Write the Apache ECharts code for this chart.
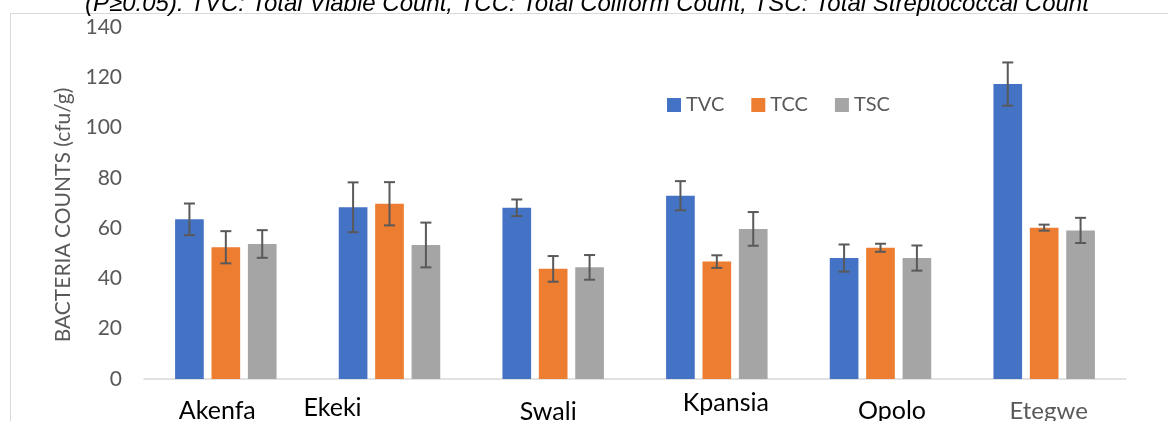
<!DOCTYPE html>
<html>
<head>
<meta charset="utf-8">
<script src="https://cdn.jsdelivr.net/npm/echarts@6/dist/echarts.min.js"></script>
<style>
  html, body { margin: 0; padding: 0; background: #fff; }
  #box { width: 1168px; height: 421px; }
</style>
</head>
<body>
<div id="box"></div>
<script>
  // sites and counts
  const categories = ['Akenfa', 'Ekeki', 'Swali', 'Kpansia', 'Opolo', 'Etegwe'];
  const tvc = [63.5, 68.3, 68.1, 72.9, 48.1, 117.3];
  const tcc = [52.4, 69.7, 43.8, 46.7, 52.2, 60.2];
  const tsc = [53.7, 53.3, 44.4, 59.7, 48.1, 59.1];
  const tvcErr = [6.3, 9.9, 3.3, 5.8, 5.4, 8.6];
  const tccErr = [6.4, 8.6, 5.1, 2.5, 1.6, 1.2];
  const tscErr = [5.5, 8.9, 4.9, 6.7, 5.0, 5.0];
  const yTicks = [0, 20, 40, 60, 80, 100, 120, 140];

  const font = 'Lato, "Open Sans", sans-serif';
  const barGapPct = 0.27;
  const catGapPct = 0.38;

  // hand-placed text boxes in the original, so labels are nudged one by one
  const labelPad = [
    [19, 17, 0, 0],
    [16, 114, 0, 0],
    [20, 10, 0, 0],
    [11, 0, 0, 18],
    [19, 0, 0, 23],
    [20, 0, 0, 9],
  ];

  const chart = echarts.init(document.getElementById('box'));

  function errorSeries(name, values, errs, k) {
    return {
      name: name + ' err',
      type: 'custom',
      z: 5,
      silent: true,
      data: values.map((v, i) => [i, v - errs[i], v + errs[i]]),
      renderItem: (params, api) => {
        const band = api.size([1, 0])[0];
        const barW = band * (1 - catGapPct) / (3 + 2 * barGapPct);
        const shift = (k - 1) * barW * (1 + barGapPct);
        const lo = api.coord([api.value(0), api.value(1)]);
        const hi = api.coord([api.value(0), api.value(2)]);
        const x = lo[0] + shift;
        const half = 5.5;
        const style = { stroke: '#595959', lineWidth: 2 };
        return {
          type: 'group',
          children: [
            { type: 'line', shape: { x1: x, y1: hi[1], x2: x, y2: lo[1] }, style },
            { type: 'line', shape: { x1: x - half, y1: hi[1], x2: x + half, y2: hi[1] }, style },
            { type: 'line', shape: { x1: x - half, y1: lo[1], x2: x + half, y2: lo[1] }, style },
          ],
        };
      },
    };
  }

  function barSeries(name, values, color) {
    return {
      name,
      type: 'bar',
      data: values,
      barGap: (barGapPct * 100) + '%',
      barCategoryGap: (catGapPct * 100) + '%',
      itemStyle: { color },
    };
  }

  chart.setOption({
    animation: false,
    title: {
      text: '(P≥0.05). TVC: Total Viable Count, TCC: Total Coliform Count, TSC: Total Streptococcal Count',
      left: 80,
      top: -13,
      textStyle: {
        fontFamily: '"Liberation Sans", Arial, sans-serif',
        fontStyle: 'italic',
        fontWeight: 'normal',
        fontSize: 24,
        color: '#000',
      },
    },
    graphic: [
      {
        type: 'rect',
        shape: { x: 10.5, y: 13.5, width: 1200, height: 500 },
        style: { fill: 'none', stroke: '#d9d9d9', lineWidth: 1 },
        z: -1,
      },
    ],
    legend: {
      data: ['TVC', 'TCC', 'TSC'],
      left: 662,
      top: 90,
      itemWidth: 14,
      itemHeight: 14,
      itemGap: 27,
      icon: 'rect',
      textStyle: { fontFamily: font, fontSize: 20, color: '#595959' },
    },
    grid: { left: 144, right: 42, top: 27, bottom: 42, outerBoundsMode: 'none' },
    xAxis: {
      type: 'category',
      data: categories.map((c, i) => ({
        value: c,
        textStyle: {
          padding: labelPad[i],
          fontSize: i === 5 ? 24 : 25,
          color: i === 5 ? '#595959' : '#000',
        },
      })),
      axisLine: { lineStyle: { color: '#d9d9d9', width: 1.5 } },
      axisTick: { show: false },
      axisLabel: { fontFamily: font, fontSize: 25, color: '#000', margin: 0 },
    },
    yAxis: {
      type: 'value',
      min: yTicks[0],
      max: yTicks[yTicks.length - 1],
      interval: 20,
      name: 'BACTERIA COUNTS (cfu/g)',
      nameLocation: 'middle',
      nameGap: 70,
      nameTextStyle: { fontFamily: font, fontSize: 21, color: '#595959', padding: [0, 24, 0, 0] },
      axisLine: { show: false },
      axisTick: { show: false },
      splitLine: { show: false },
      axisLabel: { fontFamily: font, fontSize: 21, color: '#595959', margin: 22 },
    },
    series: [
      barSeries('TVC', tvc, '#4472c4'),
      barSeries('TCC', tcc, '#ed7d31'),
      barSeries('TSC', tsc, '#a5a5a5'),
      errorSeries('TVC', tvc, tvcErr, 0),
      errorSeries('TCC', tcc, tccErr, 1),
      errorSeries('TSC', tsc, tscErr, 2),
    ],
  });
</script>
</body>
</html>
